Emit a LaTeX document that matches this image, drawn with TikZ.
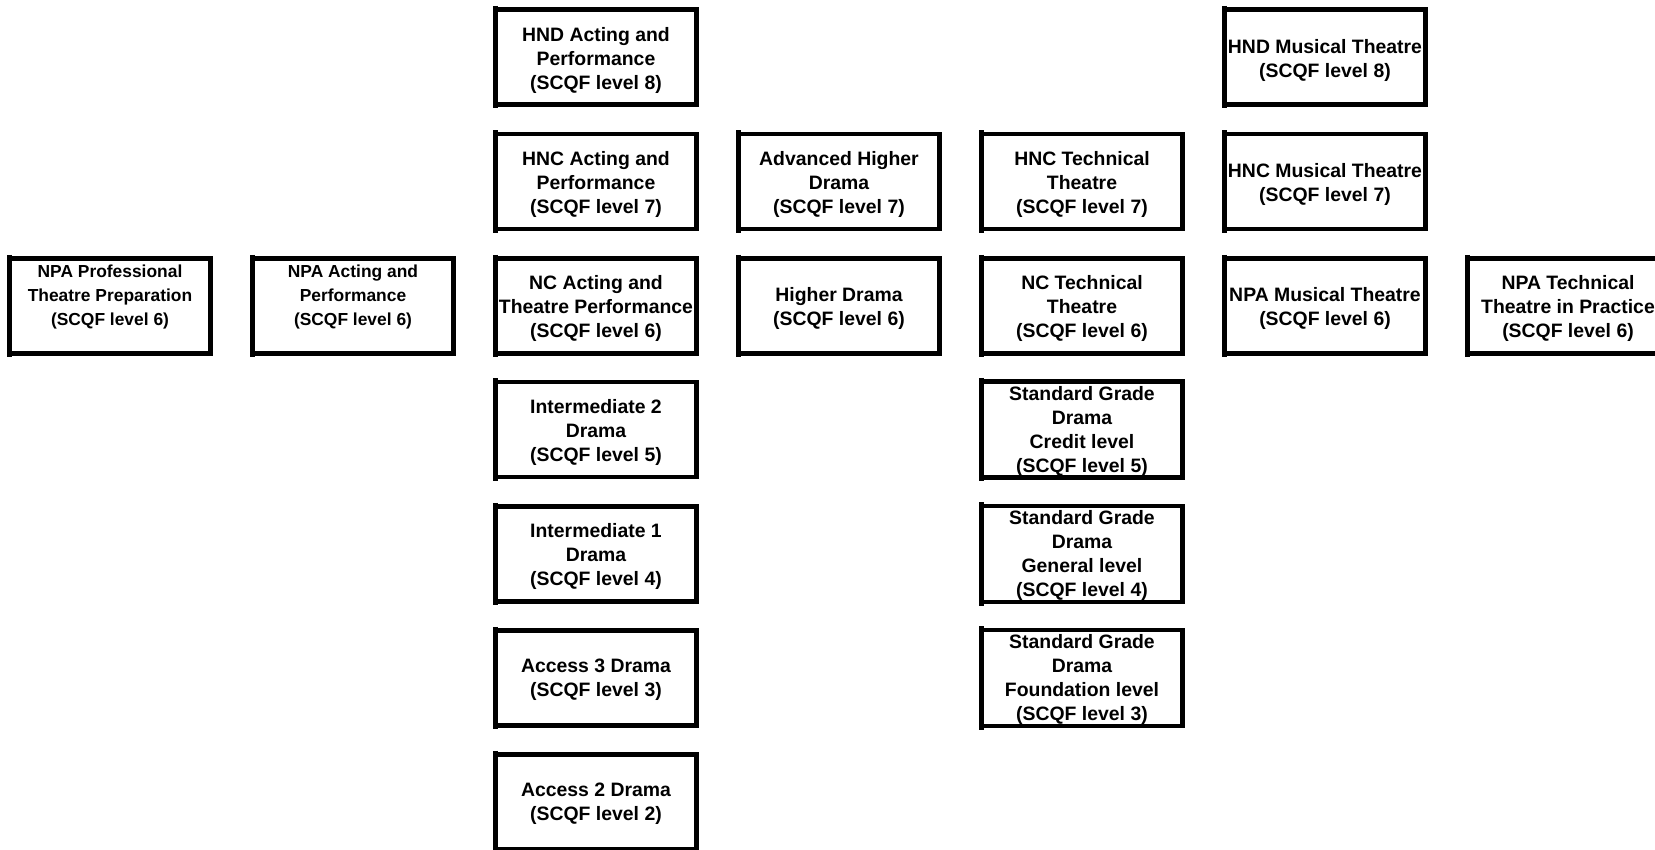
\documentclass[tikz,border=0pt]{standalone}
\usepackage{fontspec}
\setmainfont{Liberation Sans}
\newcommand{\qt}[2]{\raisebox{#1}[\height][\depth]{\begin{tabular}{@{}c@{}}#2\end{tabular}}}
\begin{document}
\begin{tikzpicture}[x=1pt,y=-1pt,
  qtick/.style={draw=black, line width=4.2pt, shorten <=-3.6pt, shorten >=-3.6pt},
  qbox/.style={draw=black, line width=4.2pt, fill=white, minimum width=201pt, minimum height=95pt,
    inner sep=0pt, outer sep=0pt, text=black,
    font=\fontsize{19.4pt}{24pt}\selectfont\bfseries,
    append after command={(\tikzlastnode.north west) edge[qtick] (\tikzlastnode.south west)}},
  qboxs/.style={qbox, font=\fontsize{17.4pt}{24pt}\selectfont\bfseries}]
\useasboundingbox (0,0) rectangle (1655,850);
\fill[white] (0,0) rectangle (1655,850);
\clip (0,0) rectangle (1655,850);
\def\cA{110}\def\cB{353}\def\cC{596}\def\cD{839}\def\cE{1082}\def\cF{1325}\def\cG{1568}
\def\rA{57}\def\rB{181.5}\def\rC{306}\def\rD{429.5}\def\rE{554}\def\rF{678}\def\rG{802}
% columns 1 and 2
\node[qboxs] (npaprof) at (\cA,\rC) {\qt{9.5pt}{NPA Professional\\Theatre Preparation\\(SCQF level 6)}};
\node[qboxs] (npaact) at (\cB,\rC) {\qt{9.5pt}{NPA Acting and\\Performance\\(SCQF level 6)}};
% column 3
\node[qbox] (hndact) at (\cC,\rA) {\qt{-3.5pt}{HND Acting and\\Performance\\(SCQF level 8)}};
\node[qbox] (hncact) at (\cC,\rB) {\qt{-3pt}{HNC Acting and\\Performance\\(SCQF level 7)}};
\node[qbox] (ncact) at (\cC,\rC) {\qt{-3pt}{NC Acting and\\Theatre Performance\\(SCQF level 6)}};
\node[qbox] (int2) at (\cC,\rD) {\qt{-3pt}{Intermediate 2\\Drama\\(SCQF level 5)}};
\node[qbox] (int1) at (\cC,\rE) {\qt{-3pt}{Intermediate 1\\Drama\\(SCQF level 4)}};
\node[qbox] (acc3) at (\cC,\rF) {\qt{-2pt}{Access 3 Drama\\(SCQF level 3)}};
\node[qbox] (acc2) at (\cC,\rG) {\qt{-2pt}{Access 2 Drama\\(SCQF level 2)}};
% column 4
\node[qbox] (advh) at (\cD,\rB) {\qt{-3pt}{Advanced Higher\\Drama\\(SCQF level 7)}};
\node[qbox] (higher) at (\cD,\rC) {\qt{-2.5pt}{Higher Drama\\(SCQF level 6)}};
% column 5
\node[qbox] (hnctech) at (\cE,\rB) {\qt{-3pt}{HNC Technical\\Theatre\\(SCQF level 7)}};
\node[qbox] (nctech) at (\cE,\rC) {\qt{-3pt}{NC Technical\\Theatre\\(SCQF level 6)}};
\node[qbox] (sgcredit) at (\cE,\rD) {\qt{-2pt}{Standard Grade\\Drama\\Credit level\\(SCQF level 5)}};
\node[qbox] (sggeneral) at (\cE,\rE) {\qt{-2pt}{Standard Grade\\Drama\\General level\\(SCQF level 4)}};
\node[qbox] (sgfound) at (\cE,\rF) {\qt{-2pt}{Standard Grade\\Drama\\Foundation level\\(SCQF level 3)}};
% column 6
\node[qbox] (hndmus) at (\cF,\rA) {\qt{-3.5pt}{HND Musical Theatre\\(SCQF level 8)}};
\node[qbox] (hncmus) at (\cF,\rB) {\qt{-3pt}{HNC Musical Theatre\\(SCQF level 7)}};
\node[qbox] (npamus) at (\cF,\rC) {\qt{-2.5pt}{NPA Musical Theatre\\(SCQF level 6)}};
% column 7
\node[qbox] (npatech) at (\cG,\rC) {\qt{-3pt}{NPA Technical\\Theatre in Practice\\(SCQF level 6)}};
\end{tikzpicture}
\end{document}
